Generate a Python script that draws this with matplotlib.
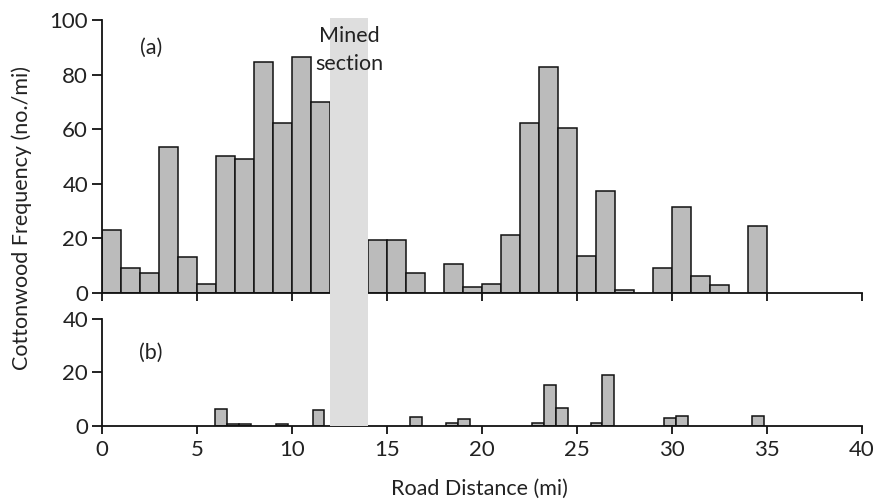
import matplotlib
matplotlib.use("Agg")
import matplotlib.pyplot as plt
from matplotlib.patches import Rectangle
from matplotlib.transforms import blended_transform_factory

plt.rcParams['font.family'] = ['Lato', 'DejaVu Sans']

# (a) cottonwood frequency per 1-mile segment (segment start, mi)
a_start = [0, 1, 2, 3, 4, 5, 6, 7, 8, 9, 10, 11,
           14, 15, 16, 18, 19, 20, 21, 22, 23, 24, 25, 26, 27,
           29, 30, 31, 32, 34]
a_freq = [23.1, 8.9, 7.1, 53.4, 13.2, 3.2, 50.2, 49.1, 84.6, 62.4, 86.3, 69.8,
          19.5, 19.4, 7.4, 10.7, 2.1, 3.3, 21.0, 62.4, 82.7, 60.4, 13.6, 37.2, 0.9,
          9.2, 31.6, 6.0, 2.8, 24.5]

# (b) frequency per 1-km segment (segment start, mi)
b_start = [5.97, 6.58, 7.2, 9.16, 11.08, 16.2, 18.1, 18.74,
           22.65, 23.28, 23.9, 25.72, 26.33, 29.6, 30.2, 34.2]
b_freq = [6.1, 0.5, 0.5, 0.7, 6.0, 3.4, 1.0, 2.5,
          1.0, 15.2, 6.5, 1.0, 19.0, 3.0, 3.6, 3.6]
b_width = 0.62

mined = (12, 14)
x_ticks = [0, 5, 10, 15, 20, 25, 30, 35, 40]
a_yticks = [0, 20, 40, 60, 80, 100]
b_yticks = [0, 20, 40]

W, H = 891, 501
fig = plt.figure(figsize=(W / 100, H / 100), dpi=100)

def px_axes(l, t, r, b):
    return fig.add_axes([l / W, (H - b) / H, (r - l) / W, (b - t) / H])

ax1 = px_axes(102, 20, 862, 292.7)
ax2 = px_axes(102, 319, 862, 425.7)

bar_fc = '#bbbbbb'
fs = 15.5
txt_c = '#222222'

for ax in (ax1, ax2):
    ax.set_facecolor('none')
    ax.set_xlim(0, 40)
    ax.spines['top'].set_visible(False)
    ax.spines['right'].set_visible(False)
    for s in ('left', 'bottom'):
        ax.spines[s].set_linewidth(1.3)
        ax.spines[s].set_color('#111111')
    ax.set_xticks(x_ticks)
    ax.tick_params(axis='both', direction='out', width=1.3, color='#111111',
                   labelsize=16, labelcolor=txt_c)
    ax.tick_params(axis='y', length=7.5, pad=2.5)
    ax.tick_params(axis='x', length=6, pad=4)

ax1.bar(a_start, a_freq, width=1.0, align='edge', color=bar_fc,
        edgecolor='#111111', linewidth=1.1, zorder=2)
ax1.set_ylim(0, 100)
ax1.set_yticks(a_yticks)
ax1.tick_params(axis='x', labelbottom=False)

ax2.bar(b_start, b_freq, width=b_width, align='edge', color=bar_fc,
        edgecolor='#111111', linewidth=1.1, zorder=2)
ax2.set_ylim(0, 40)
ax2.set_yticks(b_yticks)

# Mined section band spanning both panels
trans = blended_transform_factory(ax1.transData, fig.transFigure)
band_bottom = (H - 425.7) / H
band_top = (H - 18) / H
fig.patches.append(Rectangle((mined[0], band_bottom), mined[1] - mined[0],
                             band_top - band_bottom, transform=trans,
                             facecolor='#dedede', edgecolor='none', zorder=0))

fig.text((mined[0] + mined[1]) / 2, (H - 50) / H, 'Mined\nsection',
         transform=trans, ha='center', va='center', fontsize=fs,
         color=txt_c, linespacing=1.5)

fig.text(151 / W, (H - 48) / H, '(a)', ha='center', va='center', fontsize=fs,
         color=txt_c)
fig.text(151 / W, (H - 353) / H, '(b)', ha='center', va='center', fontsize=fs,
         color=txt_c)

fig.text(22 / W, (H - 218) / H, 'Cottonwood Frequency (no./mi)', rotation=90,
         ha='center', va='center', fontsize=fs, color=txt_c)
fig.text(479 / W, (H - 489) / H, 'Road Distance (mi)', ha='center',
         va='center', fontsize=fs, color=txt_c)

fig.savefig('out.png', dpi=100)
